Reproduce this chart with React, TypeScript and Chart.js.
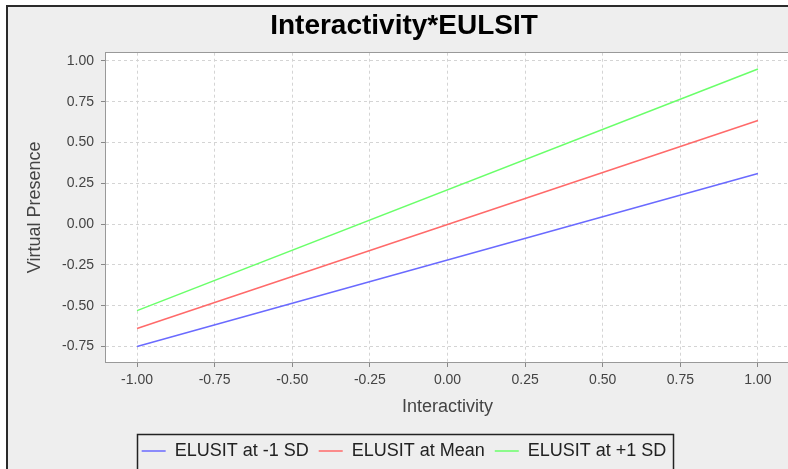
import React, { useEffect, useRef } from "react";
import { Chart, registerables } from "chart.js";

Chart.register(...registerables);

const chartTitle = "Interactivity*EULSIT";
const xAxisTitle = "Interactivity";
const yAxisTitle = "Virtual Presence";

const xValues = [-1, 1];
const seriesLow = [-0.75, 0.31];
const seriesMean = [-0.64, 0.635];
const seriesHigh = [-0.53, 0.95];
const seriesNames = ["ELUSIT at -1 SD", "ELUSIT at Mean", "ELUSIT at +1 SD"];
const seriesColors = ["#6a6aff", "#ff6a6a", "#6aff6a"];

const xTicks = [-1, -0.75, -0.5, -0.25, 0, 0.25, 0.5, 0.75, 1];
const yTicks = [-0.75, -0.5, -0.25, 0, 0.25, 0.5, 0.75, 1];

const FONT = "'Liberation Sans', Arial, Helvetica, sans-serif";

const framePlugin = {
  id: "frame",
  beforeDraw(chart: any) {
    const { ctx, width, height, chartArea: a } = chart;
    ctx.save();
    ctx.fillStyle = "#ffffff";
    ctx.fillRect(0, 0, width, height);
    ctx.fillStyle = "#eeeeee";
    ctx.fillRect(6, 5, width, height);
    ctx.fillStyle = "#2a2a2a";
    ctx.fillRect(6, 5, 2, height);
    ctx.fillRect(6, 5, width, 2);
    ctx.fillStyle = "#ffffff";
    ctx.fillRect(a.left, a.top, a.right - a.left, a.bottom - a.top);
    ctx.restore();
  },
  afterDraw(chart: any) {
    const { ctx, chartArea: a, legend } = chart;
    ctx.save();
    ctx.strokeStyle = "#999999";
    ctx.lineWidth = 1;
    ctx.strokeRect(
      Math.round(a.left) - 0.5,
      Math.round(a.top) - 0.5,
      Math.round(a.right - a.left) + 1,
      Math.round(a.bottom - a.top) + 1
    );
    const boxes = legend && legend.legendHitBoxes;
    if (boxes && boxes.length) {
      const l = Math.min(...boxes.map((b: any) => b.left)) - 5;
      const r = Math.max(...boxes.map((b: any) => b.left + b.width)) + 6;
      const t = boxes[0].top - 8;
      ctx.strokeStyle = "#222222";
      ctx.lineWidth = 1.5;
      ctx.strokeRect(Math.round(l) + 0.5, Math.round(t) + 0.5, Math.round(r - l), 60);
    }
    ctx.restore();
  },
};

export default function App() {
  const canvasRef = useRef<HTMLCanvasElement | null>(null);

  useEffect(() => {
    if (!canvasRef.current) return;
    Chart.defaults.font.family = FONT;
    const series = [seriesLow, seriesMean, seriesHigh];
    const chart = new Chart(canvasRef.current, {
      type: "line",
      data: {
        datasets: series.map((vals, i) => ({
          label: seriesNames[i],
          data: xValues.map((x, j) => ({ x, y: vals[j] })),
          borderColor: seriesColors[i],
          backgroundColor: seriesColors[i],
          borderWidth: 1.5,
          pointRadius: 0,
          pointHoverRadius: 0,
          fill: false,
          tension: 0,
        })),
      },
      options: {
        animation: false,
        responsive: false,
        devicePixelRatio: 1,
        events: [],
        layout: { padding: { left: 19, right: 11, top: 0, bottom: 10 } },
        plugins: {
          title: {
            display: true,
            text: chartTitle,
            color: "#000000",
            font: { size: 28, weight: "bold", family: FONT },
            padding: { top: 9, bottom: 10.1 },
          },
          legend: {
            display: true,
            position: "bottom",
            labels: {
              usePointStyle: true,
              pointStyle: "line",
              pointStyleWidth: 24,
              boxHeight: 18,
              padding: 10,
              color: "#222222",
              font: { size: 18, family: FONT },
            },
          },
          tooltip: { enabled: false },
        },
        scales: {
          x: {
            type: "linear",
            min: -1.1,
            max: 1.1,
            afterBuildTicks: (s: any) => {
              s.ticks = xTicks.map((v) => ({ value: v }));
            },
            afterFit: (s: any) => {
              s.height = 70;
            },
            ticks: {
              callback: (v: any) => Number(v).toFixed(2),
              color: "#444444",
              font: { size: 14, family: FONT },
              padding: 5,
              maxRotation: 0,
              autoSkip: false,
            },
            grid: {
              color: "#d4d4d4",
              lineWidth: 1,
              tickLength: 5,
              tickColor: "#888888",
              tickBorderDash: [],
            },
            border: { display: false, dash: [3, 3] },
            title: {
              display: true,
              text: xAxisTitle,
              color: "#444444",
              font: { size: 18, family: FONT },
              padding: { top: 0, bottom: 14 },
            },
          },
          y: {
            type: "linear",
            min: -0.845,
            max: 1.05,
            afterBuildTicks: (s: any) => {
              s.ticks = yTicks.map((v) => ({ value: v }));
            },
            afterFit: (s: any) => {
              s.width = 87;
            },
            ticks: {
              callback: (v: any) => Number(v).toFixed(2),
              color: "#444444",
              font: { size: 14, family: FONT },
              padding: 7,
              autoSkip: false,
            },
            grid: {
              color: "#d4d4d4",
              lineWidth: 1,
              tickLength: 5,
              tickColor: "#888888",
              tickBorderDash: [],
            },
            border: { display: false, dash: [3, 3] },
            title: {
              display: true,
              text: yAxisTitle,
              color: "#444444",
              font: { size: 18, family: FONT },
              padding: { top: 5, bottom: 0 },
            },
          },
        },
      } as any,
      plugins: [framePlugin],
    });
    return () => chart.destroy();
  }, []);

  return (
    <div
      style={{
        position: "fixed",
        left: 0,
        top: 0,
        width: 788,
        height: 469,
        overflow: "hidden",
        background: "#ffffff",
      }}
    >
      <canvas ref={canvasRef} width={800} height={480} style={{ display: "block", width: 800, height: 480 }} />
    </div>
  );
}
